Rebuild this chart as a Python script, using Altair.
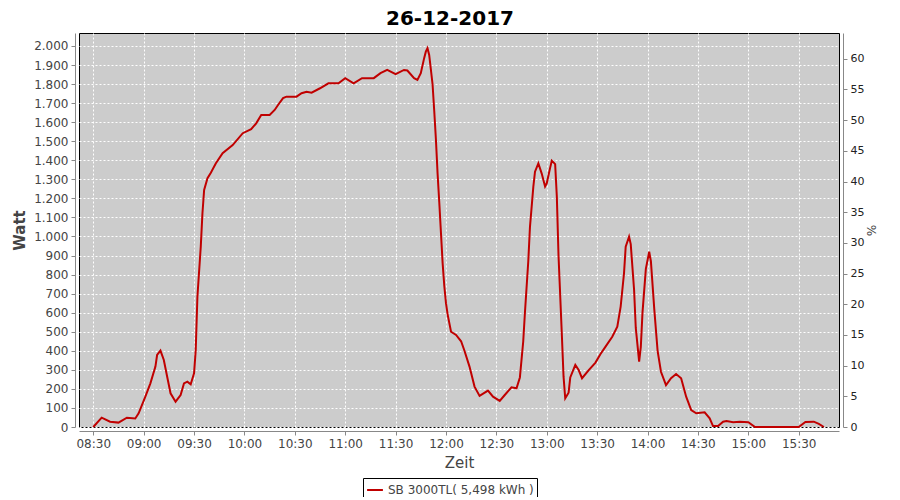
import altair as alt
import pandas as pd

# readings (clock time, Watt)
times = [
    "08:30", "08:35", "08:40", "08:45", "08:50", "08:55", "08:57", "09:01", "09:04", "09:07",
    "09:08", "09:10", "09:12", "09:14", "09:16", "09:19", "09:22", "09:24", "09:26", "09:28",
    "09:30", "09:31", "09:32", "09:34", "09:35", "09:36", "09:38", "09:40", "09:43", "09:47",
    "09:53", "09:59", "10:04", "10:07", "10:10", "10:15", "10:18", "10:20", "10:23", "10:25",
    "10:31", "10:34", "10:37", "10:40", "10:45", "10:50", "10:56", "11:00", "11:05", "11:10",
    "11:17", "11:21", "11:25", "11:30", "11:35", "11:37", "11:41", "11:43", "11:45", "11:47",
    "11:48", "11:49", "11:50", "11:52", "11:53", "11:54", "11:55", "11:56", "11:57", "11:58",
    "11:59", "12:00", "12:01", "12:03", "12:06", "12:09", "12:11", "12:14", "12:17", "12:20",
    "12:25", "12:28", "12:32", "12:35", "12:39", "12:42", "12:44", "12:46", "12:47", "12:49",
    "12:50", "12:52", "12:53", "12:55", "12:57", "12:59", "13:00", "13:02", "13:03", "13:05",
    "13:06", "13:07", "13:09", "13:10", "13:11", "13:13", "13:14", "13:17", "13:19", "13:21",
    "13:25", "13:29", "13:32", "13:35", "13:39", "13:42", "13:44", "13:46", "13:47", "13:49",
    "13:50", "13:52", "13:53", "13:55", "13:56", "13:57", "13:59", "14:01", "14:02", "14:04",
    "14:06", "14:08", "14:11", "14:14", "14:17", "14:20", "14:23", "14:26", "14:29", "14:34",
    "14:37", "14:39", "14:42", "14:45", "14:47", "14:51", "14:55", "15:00", "15:04", "15:30",
    "15:34", "15:39", "15:42", "15:45",
]
watts = [
    0, 49, 28, 23, 49, 45, 72, 159, 229, 317,
    378, 401, 352, 264, 177, 133, 168, 229, 238, 224,
    282, 404, 684, 947, 1122, 1244, 1306, 1335, 1384, 1437,
    1480, 1542, 1563, 1594, 1638, 1638, 1664, 1690, 1726, 1734,
    1734, 1752, 1760, 1755, 1778, 1804, 1804, 1831, 1804, 1831,
    1831, 1857, 1874, 1852, 1874, 1871, 1831, 1822, 1857, 1936,
    1970, 1988, 1953, 1800, 1660, 1510, 1330, 1180, 1020, 860,
    740, 650, 590, 500, 483, 450, 400, 317, 212, 163,
    191, 159, 137, 168, 208, 203, 260, 450, 600, 870,
    1050, 1260, 1340, 1384, 1330, 1262, 1279, 1360, 1398, 1380,
    1209, 900, 480, 264, 151, 180, 260, 326, 299, 256,
    299, 338, 383, 422, 474, 527, 632, 807, 947, 999,
    960, 719, 520, 343, 420, 600, 830, 920, 870, 620,
    400, 290, 220, 256, 278, 256, 159, 89, 72, 77,
    46, 5, 5, 28, 31, 25, 28, 25, 0, 0,
    26, 28, 16, 0,
]
series_name = "SB 3000TL( 5,498 kWh )"
tick_times = ["08:30", "09:00", "09:30", "10:00", "10:30", "11:00", "11:30",
              "12:00", "12:30", "13:00", "13:30", "14:00", "14:30", "15:00", "15:30"]
watt_ticks = list(range(0, 2001, 100))
pct_ticks = list(range(0, 61, 5))

df = pd.DataFrame({
    "time": ["2017-12-26T" + t + ":00" for t in times],
    "watt": watts,
    "series": series_name,
})


def dt(hm, sec=0):
    h, m = hm.split(":")
    return alt.DateTime(year=2017, month=12, date=26, hours=int(h), minutes=int(m), seconds=sec)


FONT = "DejaVu Sans"
GRAY = "#444444"

x_enc = alt.X(
    "time:T",
    scale=alt.Scale(domain=[dt("08:21", 30), dt("15:54")]),
    axis=alt.Axis(
        values=[dt(t) for t in tick_times], format="%H:%M", title="Zeit",
        grid=True, gridColor="white", gridDash=[2, 2], gridWidth=1, gridOpacity=1,
        offset=4, domainColor="#888888", tickColor="#888888", tickSize=4,
        labelColor=GRAY, labelFont=FONT, labelFontSize=12, labelPadding=3,
        titleColor=GRAY, titleFont=FONT, titleFontSize=15, titleFontWeight="normal",
        titlePadding=6, labelFlush=False,
    ),
)

line = alt.Chart(df).mark_line(strokeWidth=2, interpolate="linear").encode(
    x=x_enc,
    y=alt.Y(
        "watt:Q",
        scale=alt.Scale(domain=[0, 2068], nice=False, zero=True),
        axis=alt.Axis(
            values=watt_ticks, labelExpr="replace(format(datum.value, ','), ',', '.')",
            title="Watt", grid=True, gridColor="white", gridDash=[2, 2], gridWidth=1,
            gridOpacity=1, offset=4, domainColor="#888888", tickColor="#888888", tickSize=4,
            labelColor=GRAY, labelFont=FONT, labelFontSize=12, labelPadding=3,
            titleColor=GRAY, titleFont=FONT, titleFontSize=15, titleFontWeight="bold",
            titlePadding=6, labelFlush=False,
        ),
    ),
    color=alt.Color(
        "series:N",
        scale=alt.Scale(domain=[series_name], range=["#C00000"]),
        legend=alt.Legend(
            title=None, orient="none", legendX=284, legendY=445,
            symbolType="stroke", symbolStrokeWidth=2, symbolSize=250,
            labelFont=FONT, labelFontSize=12, labelColor=GRAY,
            strokeColor="black", fillColor="white", padding=3,
        ),
    ),
)

pct = alt.Chart(df).mark_rule(opacity=0).encode(
    y=alt.Y(
        "p:Q",
        scale=alt.Scale(domain=[0, 64.2], nice=False, zero=True),
        axis=alt.Axis(
            orient="right", values=pct_ticks, title="%", grid=False, offset=4,
            domainColor="#888888", tickColor="#888888", tickSize=4,
            labelColor="#222222", labelFont=FONT, labelFontSize=11, labelPadding=3,
            titleColor=GRAY, titleFont=FONT, titleFontSize=12, titleFontWeight="normal",
            titlePadding=0, labelFlush=False,
        ),
    ),
).transform_calculate(p="0")

chart = alt.layer(line, pct).resolve_scale(y="independent").properties(
    width=760, height=394,
    autosize=alt.AutoSizeParams(type="none"),
    padding={"left": 71, "top": 25, "right": 45, "bottom": 70},
    title=alt.TitleParams("26-12-2017", font=FONT, fontSize=20, fontWeight="bold",
                          color="black", anchor="middle", dx=-9, offset=4),
    background="white",
).configure_view(fill="#CCCCCC", stroke="black", strokeWidth=1)

chart.save("out.html", embed_options={"renderer": "svg", "actions": False})
